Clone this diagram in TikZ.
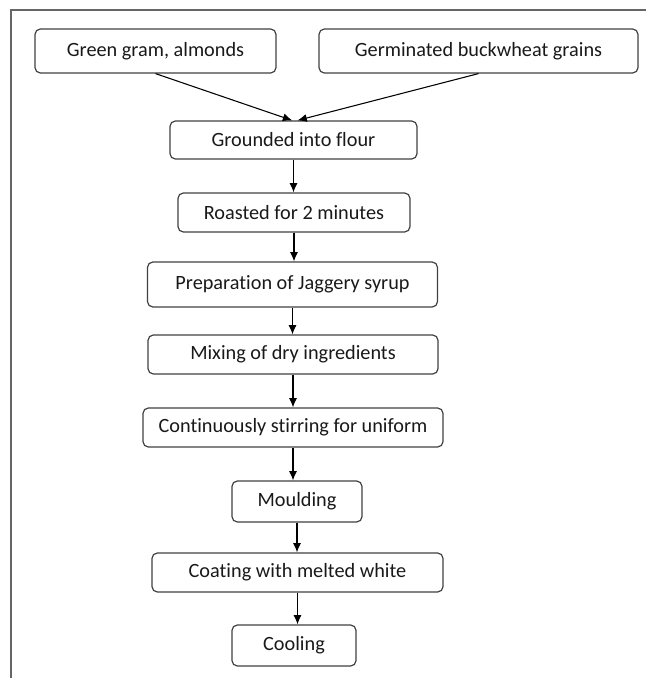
\documentclass[tikz,border=0pt]{standalone}
\usepackage{fontspec}
\setmainfont{Carlito}[Ligatures=NoCommon]
\usepackage{tikz}
\usetikzlibrary{arrows.meta}

\begin{document}
\begin{tikzpicture}[
		x=0.75pt, y=-0.75pt,
		stepbox/.style = {draw=black!75, line width=0.9pt, rounded corners=4pt, inner sep=0pt,
			font=\fontsize{15.2}{17}\selectfont, text=black!90},
		flow/.style = {-{Latex[length=7pt,width=6pt]}, line width=0.8pt},
		auto
			]
		\useasboundingbox (0,0) rectangle (646,678);
		\draw [black!60, line width=1.2pt] (11,678) -- (11,10) -- (646,10);

		\node [stepbox, minimum width=241*0.75pt, minimum height=44*0.75pt] (Green) at (155.5,51) {Green gram, almonds};
		\node [stepbox, minimum width=319*0.75pt, minimum height=44*0.75pt] (Buckwheat) at (478.5,51) {Germinated buckwheat grains};

		\node [stepbox, minimum width=247*0.75pt, minimum height=38*0.75pt] (Flour) at (293.5,140) {Grounded into flour};
		\node [stepbox, minimum width=232*0.75pt, minimum height=39*0.75pt] (Roast) at (294,212.5) {Roasted for 2 minutes};
		\node [stepbox, minimum width=290*0.75pt, minimum height=45*0.75pt] (Syrup) at (292.5,284.5) {Preparation of Jaggery syrup};
		\node [stepbox, minimum width=290*0.75pt, minimum height=39*0.75pt] (Mixing) at (293,354.5) {Mixing of dry ingredients};
		\node [stepbox, minimum width=300*0.75pt, minimum height=39*0.75pt] (Stirring) at (293,427.5) {Continuously stirring for uniform};
		\node [stepbox, minimum width=130*0.75pt, minimum height=41*0.75pt] (Moulding) at (297,501.5) {Moulding};
		\node [stepbox, minimum width=291*0.75pt, minimum height=39*0.75pt] (Coating) at (297.5,572.5) {Coating with melted white};
		\node [stepbox, minimum width=124*0.75pt, minimum height=41*0.75pt] (Cooling) at (294,645.5) {Cooling};

		\draw [flow] (Green.south) -- ([xshift=-1pt]Flour.north);
		\draw [flow] (Buckwheat.south) -- ([xshift=3pt]Flour.north);

		\draw [flow] (Flour) -- (Flour |- Roast.north);
		\draw [flow] (Roast) -- (Roast.south |- Syrup.north);
		\draw [flow] (Syrup.south) -- (Syrup.south |- Mixing.north);
		\draw [flow] (Mixing.south) -- (Mixing.south |- Stirring.north);
		\draw [flow] (Stirring.south) -- (Stirring.south |- Moulding.north);
		\draw [flow] (Moulding.south) -- (Moulding.south |- Coating.north);
		\draw [flow] (Coating.south) -- (Coating.south |- Cooling.north);

	\end{tikzpicture}
\end{document}
